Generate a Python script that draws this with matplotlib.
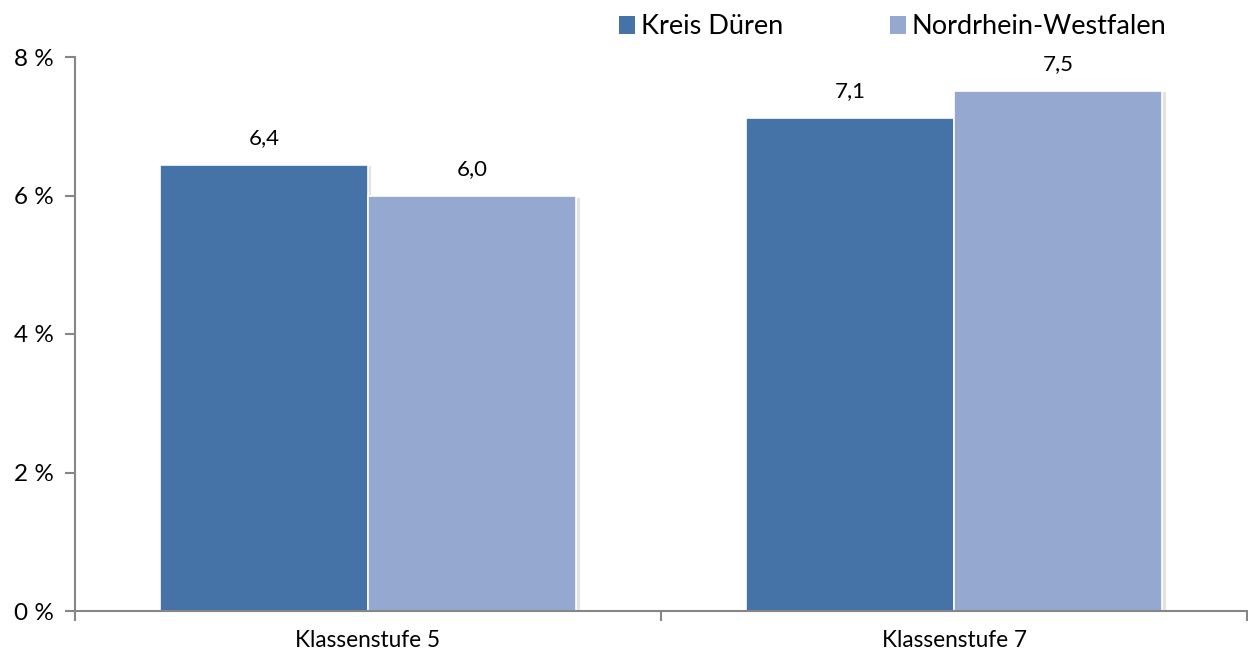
import matplotlib
matplotlib.use("Agg")
import matplotlib.pyplot as plt
import matplotlib.patheffects as pe
import numpy as np

categories = ["Klassenstufe 5", "Klassenstufe 7"]
series_names = ["Kreis Düren", "Nordrhein-Westfalen"]
kreis_dueren = [6.44, 7.12]
nrw = [5.99, 7.51]
value_labels_kreis = ["6,4", "7,1"]
value_labels_nrw = ["6,0", "7,5"]
y_ticks = [0, 2, 4, 6, 8]
y_tick_labels = ["0 %", "2 %", "4 %", "6 %", "8 %"]

colors = ["#4572A7", "#95A9D0"]
plt.rcParams['font.family'] = ['Lato', 'DejaVu Sans']

fig = plt.figure(figsize=(12.48, 6.57), dpi=100)
ax = fig.add_axes([75/1248, 1-611/657, 1172/1248, (611-57)/657])

x = np.arange(len(categories))
w = 0.355
shadow = [pe.SimplePatchShadow(offset=(2.5, -1), shadow_rgbFace="#b0b0b0", alpha=0.35), pe.Normal()]
for i, (vals, labs) in enumerate([(kreis_dueren, value_labels_kreis), (nrw, value_labels_nrw)]):
    pos = x + (i - 0.5) * w
    bars = ax.bar(pos, vals, width=w, color=colors[i], edgecolor="white", linewidth=1.2,
                  label=series_names[i], zorder=2)
    for b in bars:
        b.set_path_effects(shadow)
    for p, v, l in zip(pos, vals, labs):
        ax.annotate(l, (p, v), xytext=(0, 12), textcoords="offset points",
                    ha="center", va="bottom", fontsize=16, color="black")

ax.set_xlim(-0.5, 1.5)
ax.set_ylim(0, 8)
ax.set_yticks(y_ticks)
ax.set_yticklabels(y_tick_labels, fontsize=17.5)
ax.set_xticks([-0.5, 0.5, 1.5])
ax.set_xticklabels([])
ax.set_xticks(x, minor=True)
ax.set_xticklabels(categories, minor=True, fontsize=16.3)
ax.tick_params(axis="x", which="minor", length=0, pad=14)
ax.tick_params(axis="x", which="major", length=7, width=1.5, color="#868686", direction="out")
ax.tick_params(axis="y", length=7, width=1.5, color="#868686", direction="out", pad=8)
for s in ["top", "right"]:
    ax.spines[s].set_visible(False)
for s in ["left", "bottom"]:
    ax.spines[s].set_color("#868686")
    ax.spines[s].set_linewidth(1.5)

leg = fig.legend(loc="center left", bbox_to_anchor=(619/1248, 1-27/657), ncol=2, frameon=False,
                 fontsize=19.5, handlelength=0.6, handleheight=0.6, handletextpad=0.2,
                 columnspacing=3.95, borderaxespad=0, borderpad=0)
for h in leg.legend_handles:
    h.set_path_effects([])
    h.set_edgecolor("none")

fig.savefig("out.png", dpi=100)
